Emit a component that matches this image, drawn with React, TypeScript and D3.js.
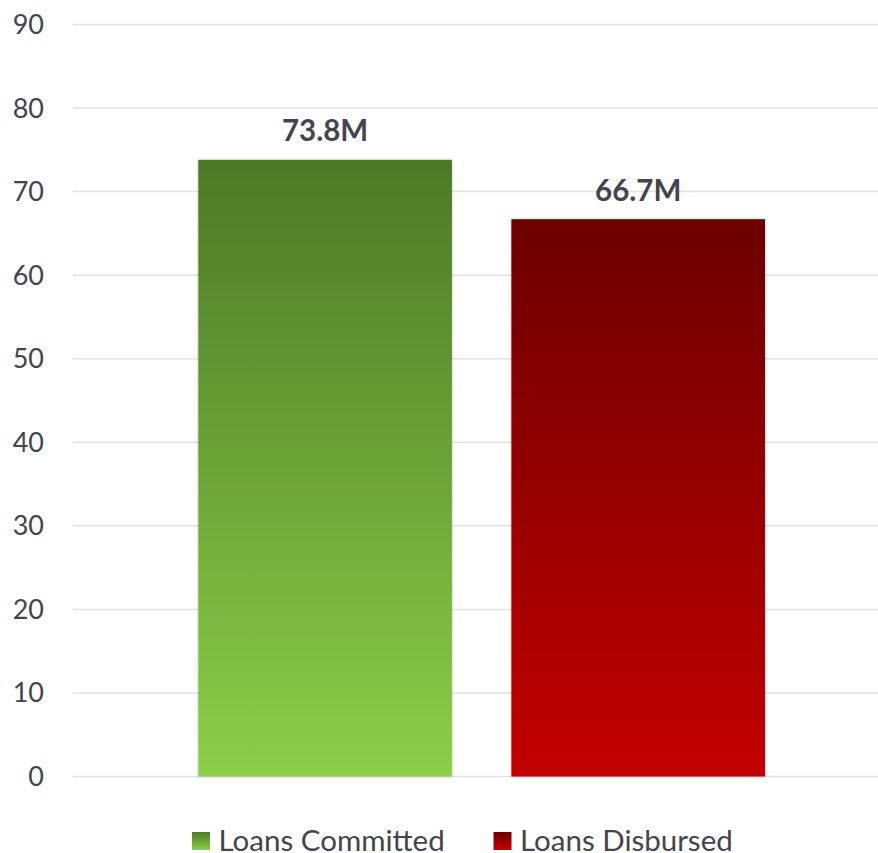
import React from "react";
import * as d3 from "d3";

const categories = ["Loans Committed", "Loans Disbursed"];
const values = [73.8, 66.7];
const valueLabels = ["73.8M", "66.7M"];
const yTicks = [0, 10, 20, 30, 40, 50, 60, 70, 80, 90];
const gradTop = ["#4d7826", "#6c0000"];
const gradBottom = ["#8ccf48", "#c30000"];

const W = 878;
const H = 853;

export default function App() {
  const y = d3.scaleLinear().domain([0, 90]).range([776.5, 24.5]);
  const x = d3.scaleBand<string>().domain(categories).range([198.3, 765]).paddingInner(0.19).paddingOuter(0);
  const font = "Lato, 'Open Sans', sans-serif";
  const textColor = "#44444f";
  const legendX = [192, 493.5];
  return (
    <svg width={W} height={H} style={{ position: "absolute", left: 0, top: 0, background: "#fff" }}>
      <defs>
        {categories.map((c, i) => (
          <linearGradient key={c} id={`g${i}`} x1="0" y1="0" x2="0" y2="1">
            <stop offset="0%" stopColor={gradTop[i]} />
            <stop offset="100%" stopColor={gradBottom[i]} />
          </linearGradient>
        ))}
        <filter id="sh" x="-5%" y="-5%" width="110%" height="110%">
          <feDropShadow dx="0" dy="0" stdDeviation="1.5" floodColor="#000" floodOpacity="0.25" />
        </filter>
      </defs>
      {yTicks.map((t) => (
        <g key={t}>
          <line x1={73} x2={W} y1={y(t)} y2={y(t)} stroke="#e2e2e6" strokeWidth={1.5} />
          <text x={44} y={y(t) + 9.5} textAnchor="end" fontFamily={font} fontSize={27} fill={textColor}>
            {t}
          </text>
        </g>
      ))}
      {categories.map((c, i) => (
        <g key={c}>
          <rect
            x={x(c)}
            y={y(values[i])}
            width={x.bandwidth()}
            height={y(0) - y(values[i])}
            fill={`url(#g${i})`}
            filter="url(#sh)"
          />
          <text
            x={(x(c) as number) + x.bandwidth() / 2}
            y={y(values[i]) - 18.5}
            textAnchor="middle"
            fontFamily={font}
            fontWeight="bold"
            fontSize={29.5}
            fill={textColor}
          >
            {valueLabels[i]}
          </text>
        </g>
      ))}
      {categories.map((c, i) => {
        const lx = legendX[i];
        return (
          <g key={"l" + c}>
            <rect x={lx} y={832} width={18} height={18} fill={`url(#g${i})`} />
            <text x={lx + 26.5} y={850.5} fontFamily={font} fontSize={29.5} fill={textColor}>
              {c}
            </text>
          </g>
        );
      })}
    </svg>
  );
}
